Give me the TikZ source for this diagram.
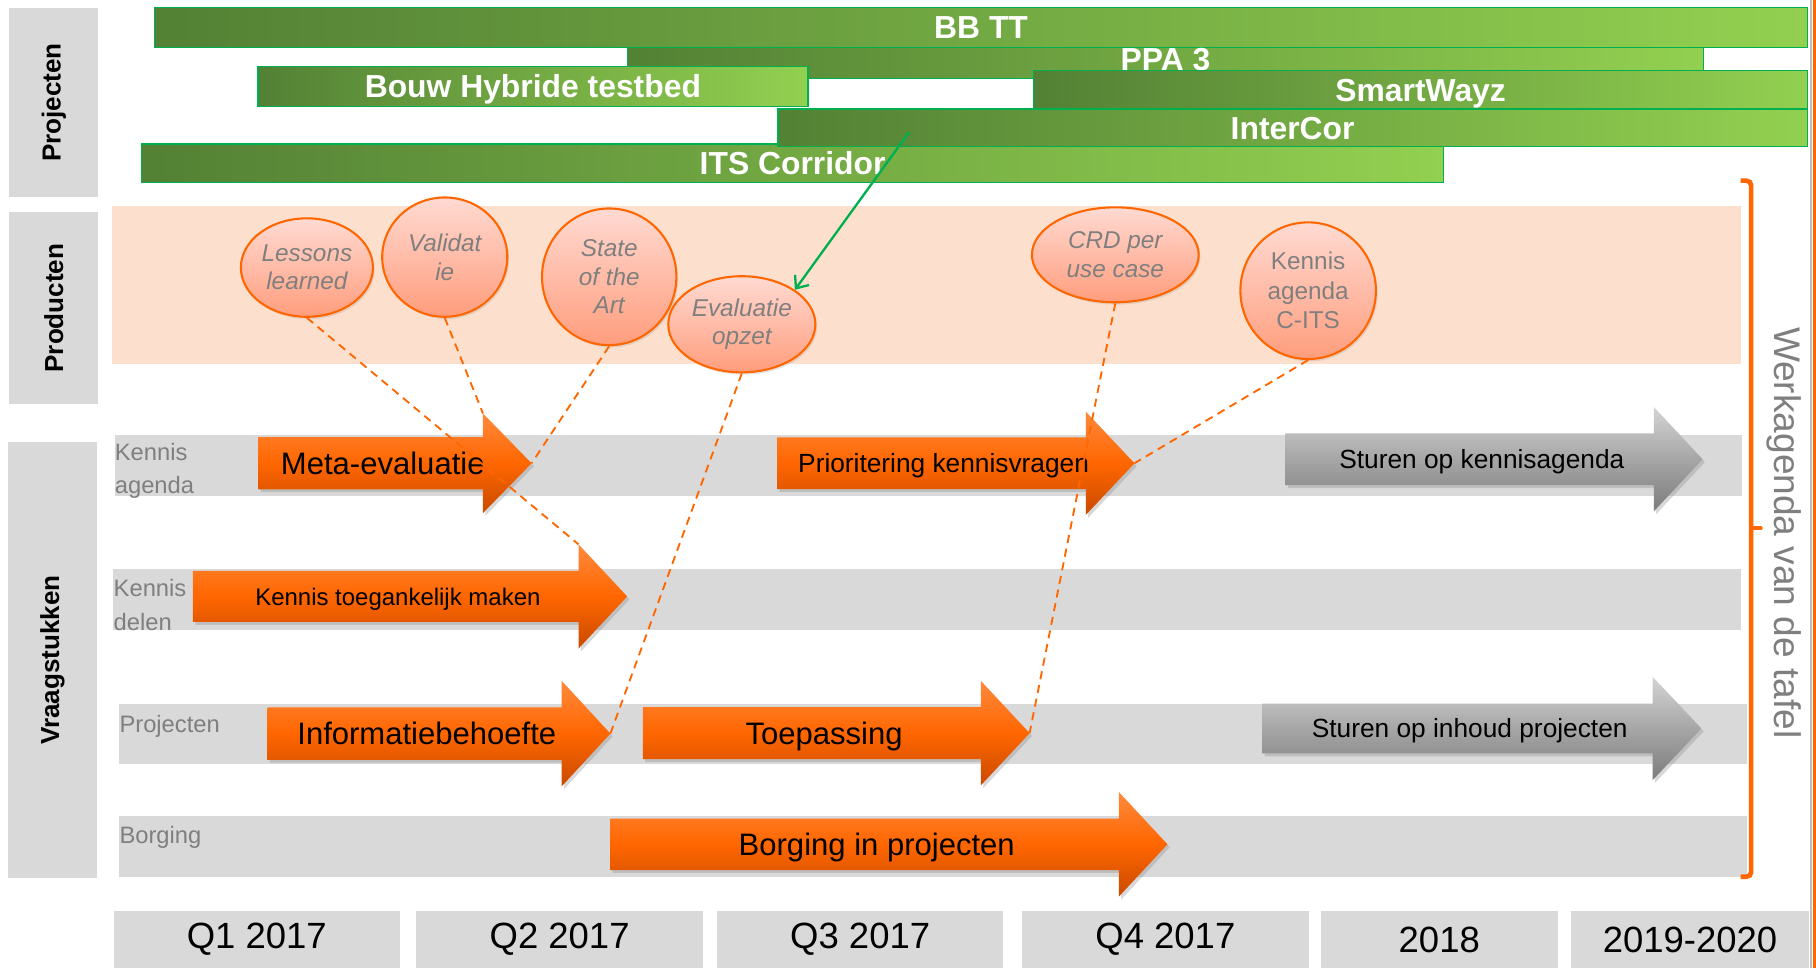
\documentclass[tikz,border=0pt]{standalone}
\usepackage{fontspec}
\setmainfont{Liberation Sans}
\usetikzlibrary{shapes.geometric,shadows,arrows.meta}

\definecolor{lanegray}{HTML}{D9D9D9}
\definecolor{labelgray}{HTML}{7F7F7F}
\definecolor{bardark}{HTML}{538135}
\definecolor{barlight}{HTML}{92D050}
\definecolor{barborder}{HTML}{00B050}
\definecolor{peach}{HTML}{FCE0CD}
\definecolor{tangerine}{HTML}{FF6600}
\definecolor{bubbletop}{HTML}{FFDAD2}
\definecolor{bubblebottom}{HTML}{FF9D7D}
\definecolor{orangelight}{HTML}{FF8A3D}
\definecolor{orangedark}{HTML}{C94A00}
\definecolor{greylight}{HTML}{D4D4D4}
\definecolor{greymid}{HTML}{A6A6A6}
\definecolor{greydark}{HTML}{7C7C7C}

\newcommand{\blockarrow}[9][orangearrow]{%
  \path[#1] (#3,#5-#6) -- (#4,#5-#6) -- (#4,#5-#7) -- (#4+42,#5)
    -- (#4,#5+#7) -- (#4,#5+#6) -- (#3,#5+#6) -- cycle;
  \coordinate (#2-top) at (#4,#5-#7);
  \coordinate (#2-tip) at (#4+42,#5);
  \node[#8] (#2) at ({(#3+#4+21)/2},#5) {#9};
}

\begin{document}
\begin{tikzpicture}[x=1pt, y=-1pt,
    catbox/.style={fill=lanegray, rotate=90, inner sep=0pt,
        font=\fontsize{22.5}{27}\selectfont\bfseries},
    bar/.style={draw=barborder, line width=1.2pt, left color=bardark,
        right color=barlight, anchor=north west, inner sep=0pt, text=white,
        text height=19.7pt, text depth=0pt,
        font=\fontsize{27.5}{33}\selectfont\bfseries},
    bubble/.style={ellipse, draw=tangerine, line width=1.8pt,
        top color=bubbletop, bottom color=bubblebottom,
        drop shadow={opacity=0.2, shadow xshift=1.5pt, shadow yshift=-2pt},
        inner sep=0pt, align=center, text=labelgray,
        font=\fontsize{21}{24.5}\selectfont\itshape},
    lanelabel/.style={anchor=west, inner sep=0pt, align=left, text=labelgray,
        font=\fontsize{20.5}{29}\selectfont},
    orangearrow/.style={top color=orangelight, bottom color=orangedark,
        middle color=tangerine,
        drop shadow={opacity=0.3, shadow xshift=2pt, shadow yshift=-2.5pt}},
    greyarrow/.style={top color=greylight, bottom color=greydark,
        middle color=greymid,
        drop shadow={opacity=0.3, shadow xshift=2pt, shadow yshift=-2.5pt}},
    arrowbig/.style={inner sep=0pt, text height=19.2pt, text depth=0pt,
        font=\fontsize{26.8}{32}\selectfont},
    arrowmid/.style={inner sep=0pt, text height=16.3pt, text depth=0pt,
        font=\fontsize{22.7}{27}\selectfont},
    arrowsmall/.style={inner sep=0pt, text height=14.8pt, text depth=0pt,
        font=\fontsize{20.7}{25}\selectfont},
    dashlink/.style={tangerine, line width=1.6pt, dash pattern=on 7pt off 5pt},
    greenlink/.style={barborder, line width=2pt,
        -{Straight Barb[length=9pt, width=15pt]}},
    period/.style={fill=lanegray, anchor=north west, minimum height=50pt,
        inner sep=0pt, font=\fontsize{31.5}{36}\selectfont}
]
    \useasboundingbox (0,0) rectangle (1568,836);
    \fill[white] (0,0) rectangle (1568,836);

    \node[catbox, minimum width=163pt, minimum height=77pt] (cat-projecten) at (46.5,88.5) {Projecten};
    \node[catbox, minimum width=166pt, minimum height=77pt] (cat-producten) at (46.5,266) {Producten};
    \node[catbox, minimum width=376pt, minimum height=76.6pt] (cat-vraagstukken) at (45.3,570) {Vraagstukken};

    \node[bar, minimum width=1427pt, minimum height=34.3pt] (bbtt) at (133,6) {BB TT};
    \node[bar, minimum width=929.5pt, minimum height=26.7pt, text depth=7pt] (ppa) at (541,40.3) {PPA 3};
    \node[bar, minimum width=475pt, minimum height=34.8pt] (bouw) at (222,56.7) {Bouw Hybride testbed};
    \node[bar, minimum width=668pt, minimum height=33.1pt] (smartwayz) at (892,60.4) {SmartWayz};
    \node[bar, minimum width=1124.5pt, minimum height=33.3pt] (its) at (121.5,123.7) {ITS Corridor};
    \node[bar, minimum width=889pt, minimum height=32.3pt] (intercor) at (671,93.5) {InterCor};

    \fill[peach] (97,178) rectangle (1503,314);

    \node[bubble, minimum width=114pt, minimum height=85pt] (lessons) at (265,231) {Lessons\\learned};
    \node[bubble, minimum width=108pt, minimum height=103pt] (validatie) at (384,222) {Validat\\ie};
    \node[bubble, minimum width=116pt, minimum height=118pt] (state) at (526,239) {State\\of the\\Art};
    \node[bubble, minimum width=127pt, minimum height=83pt] (evaluatie) at (640.5,280) {Evaluatie\\opzet};
    \node[bubble, minimum width=144pt, minimum height=82pt] (crd) at (963,220) {CRD per\\use case};
    \node[bubble, minimum width=117pt, minimum height=118pt,
        font=\fontsize{21}{25.5}\selectfont] (kennisagenda) at (1129.5,251) {Kennis\\agenda\\C-ITS};

    \fill[lanegray] (99,375.6) rectangle (1504,428);
    \fill[lanegray] (97.5,491.4) rectangle (1503,544);
    \fill[lanegray] (103,608) rectangle (1508,660);
    \fill[lanegray] (103,704.6) rectangle (1508,757);
    \node[lanelabel] (lbl-agenda) at (99,406.5) {Kennis\\agenda};
    \node[lanelabel] (lbl-delen) at (98,522.5) {Kennis\\delen};
    \node[lanelabel] (lbl-projecten) at (103,627) {Projecten};
    \node[lanelabel] (lbl-borging) at (103,723) {Borging};

    \blockarrow{meta}{223}{417}{400}{22.5}{43}{arrowbig}{Meta-evaluatie}
    \blockarrow{toegankelijk}{166.6}{499.5}{515}{22}{45}{arrowsmall}{Kennis toegankelijk maken}
    \blockarrow{prioritering}{671}{937.5}{400}{22.3}{44.6}{arrowmid}{Prioritering kennisvragen}
    \blockarrow[greyarrow]{sturenagenda}{1110}{1428}{396.5}{22.4}{45}{arrowmid}{Sturen op kennisagenda}
    \blockarrow{informatie}{231}{485}{633.4}{22.6}{45.5}{arrowbig}{Informatiebehoefte}
    \blockarrow{toepassing}{555}{847}{633}{22.5}{45}{arrowbig}{Toepassing}
    \blockarrow{borging}{527}{966}{729}{22.2}{45.2}{arrowbig}{Borging in projecten}
    \blockarrow[greyarrow]{sturenprojecten}{1090}{1427}{629}{21.5}{44.5}{arrowmid}{Sturen op inhoud projecten}

    \draw[dashlink] (lessons.south) -- (toegankelijk-top);
    \draw[dashlink] (validatie.south) -- (meta-top);
    \draw[dashlink] (state.south) -- (meta-tip);
    \draw[dashlink] (evaluatie.south) -- (informatie-tip);
    \draw[dashlink] (crd.south) -- (toepassing-tip);
    \draw[dashlink] (kennisagenda.south) -- (prioritering-tip);

    \coordinate (greenstart) at (785,114);
    \draw[greenlink] (greenstart) -- (evaluatie.33);

    \draw[tangerine, line width=4pt, rounded corners=4pt] (1503,156) -| (1512,757) -- (1503,757);
    \draw[tangerine, line width=4pt, line cap=round] (1512,456) -- (1520,456);
    \node[rotate=-90, inner sep=0pt, text=labelgray,
        font=\fontsize{32}{38}\selectfont] (werkagenda) at (1540,460) {Werkagenda van de tafel};

    \node[period, minimum width=247pt] (q1) at (98,786) {Q1 2017};
    \node[period, minimum width=248pt] (q2) at (359,786) {Q2 2017};
    \node[period, minimum width=247pt] (q3) at (619,786) {Q3 2017};
    \node[period, minimum width=248pt] (q4) at (882,786) {Q4 2017};
    \node[period, minimum width=205pt] (y2018) at (1140,786) {2018};
    \node[period, minimum width=206pt] (y2019) at (1356,786) {2019-2020};

    \draw[lanegray!70!gray, line width=1.2pt] (1563.5,0) -- (1563.5,836);
    \draw[tangerine, line width=2.4pt] (1566.8,0) -- (1566.8,836);
\end{tikzpicture}
\end{document}
